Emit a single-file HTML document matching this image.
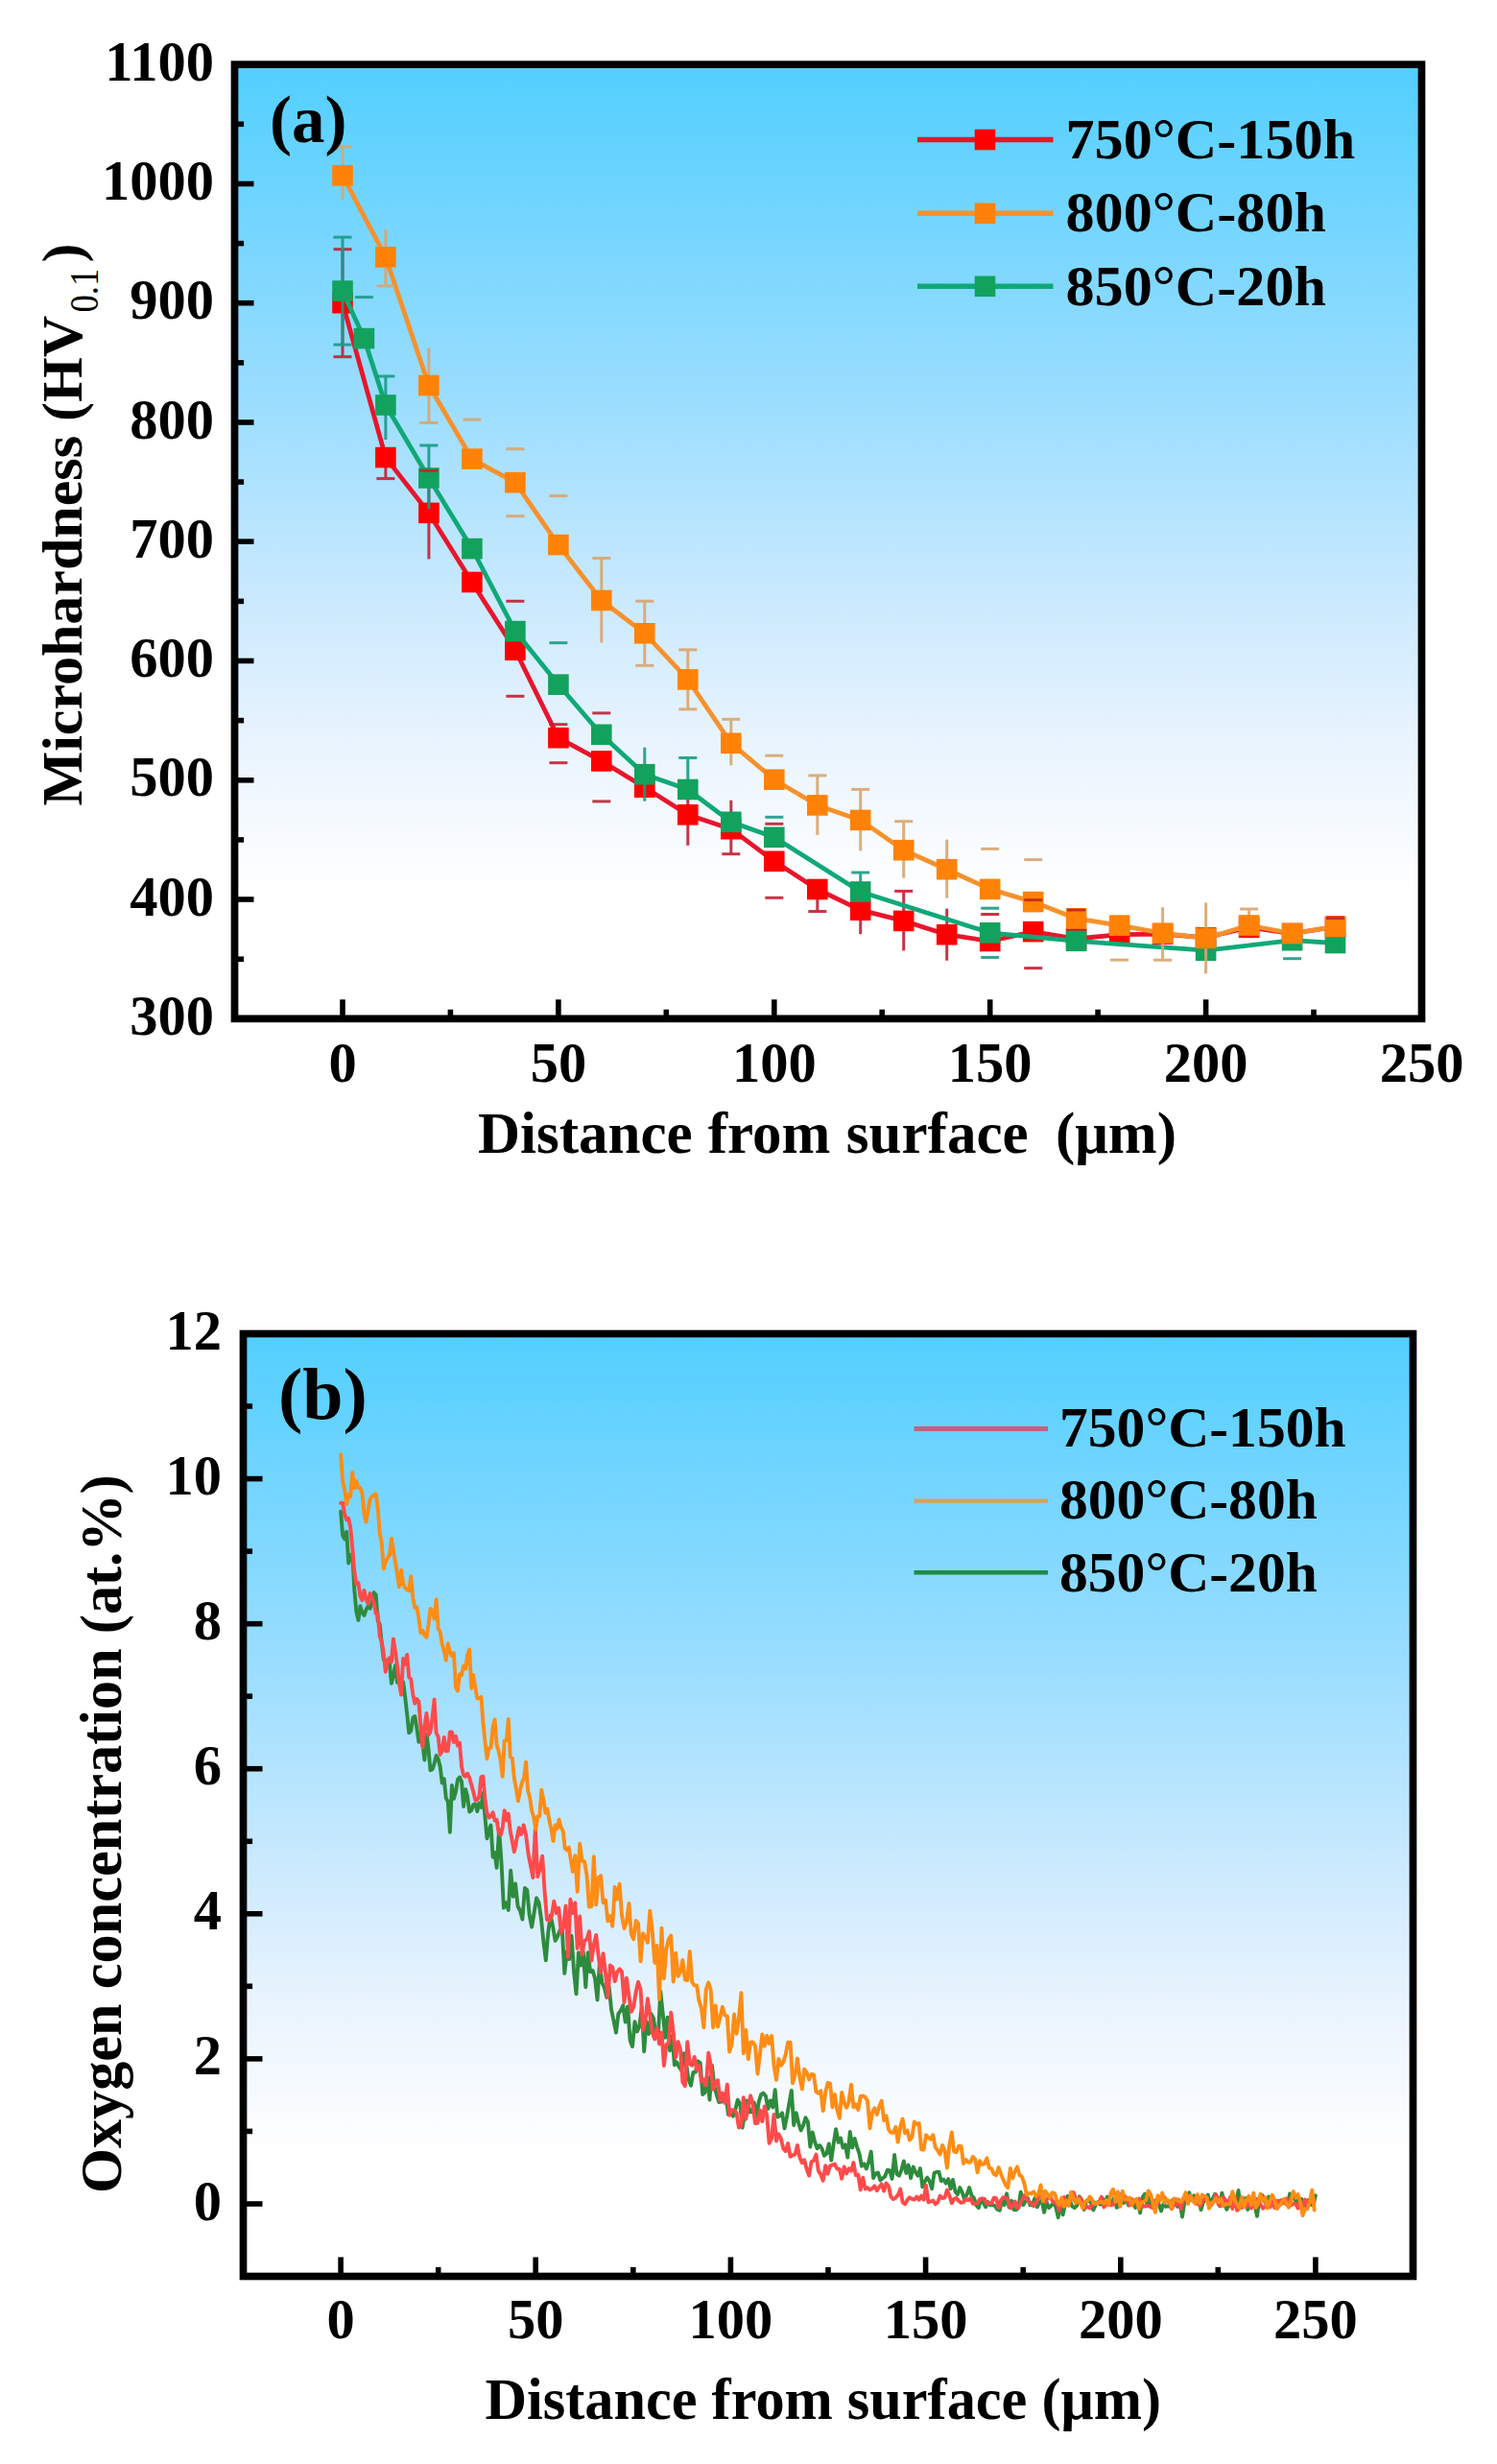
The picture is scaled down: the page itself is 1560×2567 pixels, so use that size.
<!DOCTYPE html>
<html lang="en"><head><meta charset="utf-8"><title>Microhardness and oxygen concentration profiles</title>
<style>
html,body{margin:0;padding:0;background:#fff;}
body{width:1560px;height:2567px;overflow:hidden;}
svg{display:block;}
text{font-family:"Liberation Serif", "DejaVu Serif", serif;font-weight:bold;fill:#000;}
.tk{font-size:58.5px;}
.ax{font-size:61px;}
.axb{font-size:60.3px;}
.axy{font-size:60px;}
.lg{font-size:60.2px;}
.lgb{font-size:59.6px;}
.pl{font-size:69px;}
.plb{font-size:76px;}
.sub{font-weight:normal;font-size:43px;}
</style></head><body>
<svg width="1560" height="2567" viewBox="0 0 1560 2567">
<defs>
<linearGradient id="gA" x1="0" y1="0" x2="0" y2="1"><stop offset="0" stop-color="#52cfff"/><stop offset="0.347" stop-color="#9addff"/><stop offset="0.57" stop-color="#cceafe"/><stop offset="0.70" stop-color="#e7f3fe"/><stop offset="0.83" stop-color="#fafcff"/><stop offset="0.87" stop-color="#ffffff"/><stop offset="1" stop-color="#ffffff"/></linearGradient>
<linearGradient id="gB" x1="0" y1="0" x2="0" y2="1"><stop offset="0" stop-color="#52cfff"/><stop offset="0.347" stop-color="#9addff"/><stop offset="0.57" stop-color="#cceafe"/><stop offset="0.70" stop-color="#e7f3fe"/><stop offset="0.83" stop-color="#fafcff"/><stop offset="0.87" stop-color="#ffffff"/><stop offset="1" stop-color="#ffffff"/></linearGradient>
</defs>
<rect x="0" y="0" width="1560" height="2567" fill="#ffffff"/>
<g id="panelA">
<rect x="244.5" y="67.2" width="1237" height="994.1" fill="url(#gA)"/>
<path d="M357 315.7 L401.9 476.6 L446.9 534.4 L491.9 606.5 L536.9 677.3 L581.9 768.7 L626.8 792.9 L671.8 820.2 L716.8 848.8 L761.8 863.7 L806.8 897.3 L851.8 926.5 L896.7 948.2 L941.7 959.4 L986.7 973.7 L1031.7 980.5 L1076.7 970.6 L1121.6 978 L1166.6 973.7 L1211.6 973.1 L1256.6 976.8 L1301.6 966.2 L1346.6 972.5 L1391.5 965.6" fill="none" stroke="#e8152c" stroke-width="4.8" stroke-linejoin="round"/>
<g stroke="#c41e32" stroke-width="3" fill="none" opacity="0.9"><path d="M357 259.7V371.7"/><path d="M347.5 259.7H366.5"/><path d="M347.5 371.7H366.5"/><path d="M401.9 476.6V498.6"/><path d="M392.4 498.6H411.4"/><path d="M446.9 490.4V582.4"/><path d="M437.4 490.4H456.4"/><path d="M527.4 626.3H546.4"/><path d="M527.4 725.3H546.4"/><path d="M572.4 754.7H591.4"/><path d="M572.4 794.7H591.4"/><path d="M617.3 742.9H636.3"/><path d="M617.3 834.9H636.3"/><path d="M716.8 816.8V880.8"/><path d="M761.8 833.7V889.7"/><path d="M752.3 889.7H771.3"/><path d="M797.3 858.3H816.3"/><path d="M797.3 935.3H816.3"/><path d="M851.8 926.5V949.5"/><path d="M842.3 949.5H861.3"/><path d="M896.7 928.2V973.2"/><path d="M941.7 928.4V990.4"/><path d="M932.2 928.4H951.2"/><path d="M986.7 946.7V1000.7"/><path d="M1022.2 952.5H1041.2"/><path d="M1067.2 937.6H1086.2"/><path d="M1067.2 1008.6H1086.2"/><path d="M1382 955.6H1401"/></g>
<g fill="#ff0000"><rect x="346.2" y="304.9" width="21.6" height="21.6"/><rect x="391.1" y="465.8" width="21.6" height="21.6"/><rect x="436.1" y="523.6" width="21.6" height="21.6"/><rect x="481.1" y="595.7" width="21.6" height="21.6"/><rect x="526.1" y="666.5" width="21.6" height="21.6"/><rect x="571.1" y="757.9" width="21.6" height="21.6"/><rect x="616" y="782.1" width="21.6" height="21.6"/><rect x="661" y="809.4" width="21.6" height="21.6"/><rect x="706" y="838" width="21.6" height="21.6"/><rect x="751" y="852.9" width="21.6" height="21.6"/><rect x="796" y="886.5" width="21.6" height="21.6"/><rect x="841" y="915.7" width="21.6" height="21.6"/><rect x="885.9" y="937.4" width="21.6" height="21.6"/><rect x="930.9" y="948.6" width="21.6" height="21.6"/><rect x="975.9" y="962.9" width="21.6" height="21.6"/><rect x="1020.9" y="969.7" width="21.6" height="21.6"/><rect x="1065.9" y="959.8" width="21.6" height="21.6"/><rect x="1110.8" y="967.2" width="21.6" height="21.6"/><rect x="1155.8" y="962.9" width="21.6" height="21.6"/><rect x="1200.8" y="962.3" width="21.6" height="21.6"/><rect x="1245.8" y="966" width="21.6" height="21.6"/><rect x="1290.8" y="955.4" width="21.6" height="21.6"/><rect x="1335.8" y="961.7" width="21.6" height="21.6"/><rect x="1380.7" y="954.8" width="21.6" height="21.6"/></g>
<path d="M357 303.1 L379.4 352.6 L401.9 422 L446.9 498 L491.9 571.6 L536.9 657.6 L581.9 713.2 L626.8 765.3 L671.8 806.7 L716.8 822.5 L761.8 856.3 L806.8 872.3 L896.7 929 L1031.7 971.8 L1121.6 980.3 L1256.6 990.2 L1346.6 979.7 L1391.5 982.5" fill="none" stroke="#10a878" stroke-width="4.8" stroke-linejoin="round"/>
<g stroke="#1a9a86" stroke-width="3" fill="none" opacity="0.9"><path d="M357 247.1V359.1"/><path d="M347.5 247.1H366.5"/><path d="M347.5 359.1H366.5"/><path d="M369.9 309.6H388.9"/><path d="M401.9 392V458"/><path d="M392.4 392H411.4"/><path d="M446.9 464V530"/><path d="M437.4 464H456.4"/><path d="M572.4 669.7H591.4"/><path d="M671.8 778.7V834.7"/><path d="M716.8 789.5V822.5"/><path d="M707.3 789.5H726.3"/><path d="M797.3 851.3H816.3"/><path d="M896.7 909V929"/><path d="M887.2 909H906.2"/><path d="M1022.2 946.2H1041.2"/><path d="M1022.2 997.4H1041.2"/><path d="M1337.1 998.7H1356.1"/></g>
<g fill="#12a25e"><rect x="346.2" y="292.3" width="21.6" height="21.6"/><rect x="368.6" y="341.8" width="21.6" height="21.6"/><rect x="391.1" y="411.2" width="21.6" height="21.6"/><rect x="436.1" y="487.2" width="21.6" height="21.6"/><rect x="481.1" y="560.8" width="21.6" height="21.6"/><rect x="526.1" y="646.8" width="21.6" height="21.6"/><rect x="571.1" y="702.4" width="21.6" height="21.6"/><rect x="616" y="754.5" width="21.6" height="21.6"/><rect x="661" y="795.9" width="21.6" height="21.6"/><rect x="706" y="811.7" width="21.6" height="21.6"/><rect x="751" y="845.5" width="21.6" height="21.6"/><rect x="796" y="861.5" width="21.6" height="21.6"/><rect x="885.9" y="918.2" width="21.6" height="21.6"/><rect x="1020.9" y="961" width="21.6" height="21.6"/><rect x="1110.8" y="969.5" width="21.6" height="21.6"/><rect x="1245.8" y="979.4" width="21.6" height="21.6"/><rect x="1335.8" y="968.9" width="21.6" height="21.6"/><rect x="1380.7" y="971.7" width="21.6" height="21.6"/></g>
<path d="M357 182.8 L401.9 267.9 L446.9 401.5 L491.9 478.1 L536.9 502.7 L581.9 567.6 L626.8 625.5 L671.8 659.8 L716.8 707.9 L761.8 774.3 L806.8 812.2 L851.8 838.9 L896.7 854.4 L941.7 885.7 L986.7 905.7 L1031.7 926.4 L1076.7 939.6 L1121.6 956.9 L1166.6 964.1 L1211.6 972.2 L1256.6 977.4 L1301.6 964 L1346.6 972.5 L1391.5 965.4" fill="none" stroke="#f6912c" stroke-width="4.8" stroke-linejoin="round"/>
<g stroke="#d8a670" stroke-width="3" fill="none" opacity="0.9"><path d="M357 152.8V207.8"/><path d="M347.5 152.8H366.5"/><path d="M401.9 238.9V297.9"/><path d="M392.4 297.9H411.4"/><path d="M446.9 362.5V440.5"/><path d="M437.4 440.5H456.4"/><path d="M482.4 437.1H501.4"/><path d="M527.4 467.7H546.4"/><path d="M527.4 537.7H546.4"/><path d="M572.4 516.6H591.4"/><path d="M626.8 581.5V669.5"/><path d="M617.3 581.5H636.3"/><path d="M671.8 626.3V693.3"/><path d="M662.3 626.3H681.3"/><path d="M662.3 693.3H681.3"/><path d="M716.8 676.9V738.9"/><path d="M707.3 676.9H726.3"/><path d="M707.3 738.9H726.3"/><path d="M761.8 749.3V797.3"/><path d="M752.3 749.3H771.3"/><path d="M797.3 787.2H816.3"/><path d="M851.8 807.9V869.9"/><path d="M842.3 807.9H861.3"/><path d="M896.7 822.4V886.4"/><path d="M887.2 822.4H906.2"/><path d="M941.7 855.7V914.7"/><path d="M932.2 855.7H951.2"/><path d="M986.7 874.7V935.7"/><path d="M1022.2 884.4H1041.2"/><path d="M1067.2 895.6H1086.2"/><path d="M1157.1 1000.1H1176.1"/><path d="M1211.6 945.2V1000.2"/><path d="M1202.1 1000.2H1221.1"/><path d="M1256.6 940.4V1014.4"/><path d="M1301.6 947V964"/><path d="M1292.1 947H1311.1"/></g>
<g fill="#ff8206"><rect x="346.2" y="172" width="21.6" height="21.6"/><rect x="391.1" y="257.1" width="21.6" height="21.6"/><rect x="436.1" y="390.7" width="21.6" height="21.6"/><rect x="481.1" y="467.3" width="21.6" height="21.6"/><rect x="526.1" y="491.9" width="21.6" height="21.6"/><rect x="571.1" y="556.8" width="21.6" height="21.6"/><rect x="616" y="614.7" width="21.6" height="21.6"/><rect x="661" y="649" width="21.6" height="21.6"/><rect x="706" y="697.1" width="21.6" height="21.6"/><rect x="751" y="763.5" width="21.6" height="21.6"/><rect x="796" y="801.4" width="21.6" height="21.6"/><rect x="841" y="828.1" width="21.6" height="21.6"/><rect x="885.9" y="843.6" width="21.6" height="21.6"/><rect x="930.9" y="874.9" width="21.6" height="21.6"/><rect x="975.9" y="894.9" width="21.6" height="21.6"/><rect x="1020.9" y="915.6" width="21.6" height="21.6"/><rect x="1065.9" y="928.8" width="21.6" height="21.6"/><rect x="1110.8" y="946.1" width="21.6" height="21.6"/><rect x="1155.8" y="953.3" width="21.6" height="21.6"/><rect x="1200.8" y="961.4" width="21.6" height="21.6"/><rect x="1245.8" y="966.6" width="21.6" height="21.6"/><rect x="1290.8" y="953.2" width="21.6" height="21.6"/><rect x="1335.8" y="961.7" width="21.6" height="21.6"/><rect x="1380.7" y="954.6" width="21.6" height="21.6"/></g>
<g stroke="#c0281e" stroke-width="3" fill="none" opacity="0.9"><path d="M1067.2 937.6H1086.2"/><path d="M1112.1 948H1131.1"/><path d="M1382 956.6H1401"/><path d="M437.4 490.4H456.4"/></g>
<g stroke="#000" stroke-width="5.6" fill="none">
<path d="M357 1061.3V1041.3"/>
<path d="M581.9 1061.3V1041.3"/>
<path d="M806.8 1061.3V1041.3"/>
<path d="M1031.7 1061.3V1041.3"/>
<path d="M1256.6 1061.3V1041.3"/>
<path d="M1481.5 1061.3V1041.3"/>
<path d="M469.4 1061.3V1051.7"/>
<path d="M694.3 1061.3V1051.7"/>
<path d="M919.2 1061.3V1051.7"/>
<path d="M1144.1 1061.3V1051.7"/>
<path d="M1369 1061.3V1051.7"/>
<path d="M244.5 1061.3H264.5"/>
<path d="M244.5 937H264.5"/>
<path d="M244.5 812.8H264.5"/>
<path d="M244.5 688.5H264.5"/>
<path d="M244.5 564.2H264.5"/>
<path d="M244.5 440H264.5"/>
<path d="M244.5 315.7H264.5"/>
<path d="M244.5 191.5H264.5"/>
<path d="M244.5 67.2H264.5"/>
<path d="M244.5 999.2H254.1"/>
<path d="M244.5 874.9H254.1"/>
<path d="M244.5 750.6H254.1"/>
<path d="M244.5 626.4H254.1"/>
<path d="M244.5 502.1H254.1"/>
<path d="M244.5 377.9H254.1"/>
<path d="M244.5 253.6H254.1"/>
<path d="M244.5 129.3H254.1"/>
</g>
<rect x="244.5" y="67.2" width="1237" height="994.1" fill="none" stroke="#000" stroke-width="7.7"/>
<text class="tk" x="357" y="1127" text-anchor="middle">0</text>
<text class="tk" x="581.9" y="1127" text-anchor="middle">50</text>
<text class="tk" x="806.8" y="1127" text-anchor="middle">100</text>
<text class="tk" x="1031.7" y="1127" text-anchor="middle">150</text>
<text class="tk" x="1256.6" y="1127" text-anchor="middle">200</text>
<text class="tk" x="1481.5" y="1127" text-anchor="middle">250</text>
<text class="tk" x="223" y="1077.8" text-anchor="end">300</text>
<text class="tk" x="223" y="953.5" text-anchor="end">400</text>
<text class="tk" x="223" y="829.3" text-anchor="end">500</text>
<text class="tk" x="223" y="705" text-anchor="end">600</text>
<text class="tk" x="223" y="580.8" text-anchor="end">700</text>
<text class="tk" x="223" y="456.5" text-anchor="end">800</text>
<text class="tk" x="223" y="332.2" text-anchor="end">900</text>
<text class="tk" x="223" y="208" text-anchor="end">1000</text>
<text class="tk" x="223" y="83.7" text-anchor="end">1100</text>
<text class="ax" x="498" y="1200.5" xml:space="preserve">Distance <tspan dx="0.8">from</tspan> <tspan dx="1.3">surface</tspan>  <tspan dx="-2.1">(μm)</tspan></text>
<text class="axy" transform="translate(85 839.5) rotate(-90)" xml:space="preserve">Microhardness (HV</text>
<text class="sub" transform="translate(101.6 325.5) rotate(-90) scale(0.85 1)">0.1</text>
<text class="axy" transform="translate(85 273.5) rotate(-90)">)</text>
<text class="pl" x="281" y="147.5">(a)</text>
<path d="M956 145.5H1097.5" stroke="#e8152c" stroke-width="5.4" fill="none"/>
<rect x="1015.7" y="134.7" width="21.6" height="21.6" fill="#ff0000"/>
<text class="lg" x="1110.5" y="164.7">750°C-150h</text>
<path d="M956 222.3H1097.5" stroke="#f6912c" stroke-width="5.4" fill="none"/>
<rect x="1015.7" y="211.5" width="21.6" height="21.6" fill="#ff8206"/>
<text class="lg" x="1110.5" y="240.5">800°C-80h</text>
<path d="M956 298.3H1097.5" stroke="#10a878" stroke-width="5.4" fill="none"/>
<rect x="1015.7" y="287.5" width="21.6" height="21.6" fill="#12a25e"/>
<text class="lg" x="1110.5" y="317.5">850°C-20h</text>
</g>
<g id="panelB">
<rect x="253.5" y="1389.5" width="1219" height="982" fill="url(#gB)"/>
<path d="M355.1 1574.6 L357.1 1599.5 L359.1 1603.4 L361.2 1595.9 L363.2 1628.6 L365.2 1619.7 L367.3 1620.1 L369.3 1656.4 L371.3 1678.7 L373.4 1687.9 L375.4 1673.3 L377.4 1680 L379.5 1683 L381.5 1677 L383.5 1673.4 L385.6 1675.7 L387.6 1669.2 L389.6 1659.1 L391.7 1661.5 L393.7 1688.4 L395.7 1692.2 L397.7 1710.9 L399.8 1728.9 L401.8 1731.4 L403.8 1729.3 L405.9 1732.5 L407.9 1753.7 L409.9 1745.5 L412 1735.1 L414 1752.8 L416 1745.8 L418.1 1752.3 L420.1 1752.1 L422.1 1767.3 L424.2 1785.9 L426.2 1805.3 L428.2 1803.4 L430.3 1789.8 L432.3 1788 L434.3 1800 L436.4 1814.7 L438.4 1806.2 L440.4 1816.5 L442.4 1833.5 L444.5 1806.6 L446.5 1822.1 L448.5 1844.2 L450.6 1843.2 L452.6 1837.3 L454.6 1828.9 L456.7 1832.7 L458.7 1840.6 L460.7 1857.5 L462.8 1853.3 L464.8 1873.4 L466.8 1876.9 L468.9 1908.8 L470.9 1860 L472.9 1873.9 L475 1866.5 L477 1853.8 L479 1851.5 L481 1856 L483.1 1882 L485.1 1864.1 L487.1 1871.6 L489.2 1887.6 L491.2 1886 L493.2 1880.1 L495.3 1879.3 L497.3 1887 L499.3 1878.6 L501.4 1882.9 L503.4 1867.8 L505.4 1892.3 L507.5 1915.4 L509.5 1906.3 L511.5 1901.5 L513.6 1934.7 L515.6 1930 L517.6 1945.9 L520.1 1906 L522.5 1940 L524.9 1987.6 L527.4 1982.3 L529.8 1989.9 L532.2 1948.7 L534.7 1975.9 L537.1 1962.4 L539.6 1986 L542 1990.5 L544.4 1999.6 L546.9 1966.9 L549.3 1969.2 L551.7 1995.1 L554.2 2007.5 L556.6 1992.6 L559.1 1977.3 L561.5 1982.1 L563.9 1998.4 L566.4 2022.9 L568.8 2042.3 L571.3 2012.8 L573.7 1995.5 L576.1 2006.9 L578.6 2021.9 L581 2017.6 L583.4 2011.3 L585.9 2011.3 L588.3 2055.8 L590.8 2033.3 L593.2 2041.1 L595.6 2016.7 L598.1 2054.5 L600.5 2077.3 L602.9 2034.2 L605.4 2047.6 L607.8 2033.7 L610.3 2070.2 L612.7 2034.3 L615.1 2054.2 L617.6 2053.1 L620 2060.8 L622.5 2083.6 L624.9 2044.5 L627.3 2065.6 L629.8 2070.3 L632.2 2080.9 L634.6 2069.3 L637.1 2093.9 L639.5 2105.2 L642 2117.6 L644.4 2097.8 L646.8 2094.8 L649.3 2089.3 L651.7 2106.5 L654.1 2090.5 L656.6 2125.5 L659 2132.1 L661.5 2106.2 L663.9 2116.4 L666.3 2111.5 L668.8 2090.8 L671.2 2137.2 L673.6 2106.2 L676.1 2118.9 L678.5 2097.9 L681 2102.6 L683.4 2119.7 L685.8 2122.5 L688.3 2074.7 L690.7 2097.3 L693.2 2122.9 L695.6 2101.6 L698 2136.2 L700.5 2120.6 L702.9 2151.4 L705.3 2148.4 L707.8 2153.6 L710.2 2156.7 L712.7 2139.1 L715.1 2149.5 L717.5 2166.4 L720 2172.7 L722.4 2158.9 L724.8 2158.8 L727.3 2147.3 L729.7 2149.2 L732.2 2182.1 L734.6 2180 L737 2163.4 L739.5 2187.5 L741.9 2151.6 L744.4 2172.9 L746.8 2182.4 L749.2 2190.1 L751.7 2189.6 L754.1 2185.8 L756.5 2183.8 L759 2202.9 L761.4 2201.2 L763.9 2204.7 L766.3 2197.9 L768.7 2187.7 L771.2 2191.5 L773.6 2216.6 L776 2202.8 L778.5 2188.5 L780.9 2200.3 L783.4 2200.2 L785.8 2190.5 L788.2 2205.6 L790.7 2189.9 L793.1 2182.2 L795.5 2180.6 L798 2183.8 L800.4 2196.9 L802.9 2188.4 L805.3 2195.5 L807.7 2177.2 L810.2 2205.5 L812.6 2204.5 L815.1 2201.2 L817.5 2217.4 L819.9 2205.7 L822.4 2191 L824.8 2177.9 L827.2 2214 L829.7 2201.2 L832.1 2211.5 L834.6 2219.4 L837 2214.5 L839.4 2206.2 L841.9 2210.8 L844.3 2236.6 L846.7 2221.4 L849.2 2231.7 L851.6 2238.2 L854.1 2235 L856.5 2238.3 L858.9 2245.8 L861.4 2243.5 L863.8 2233.5 L866.3 2250.6 L868.7 2233.2 L871.1 2218.1 L873.6 2231.8 L876 2227.5 L878.4 2237.4 L880.9 2234.4 L883.3 2247.6 L885.8 2221 L888.2 2237.4 L890.6 2227.9 L893.1 2236.8 L895.5 2243.6 L897.9 2256.7 L900.4 2254.2 L902.8 2259.3 L905.3 2252.2 L907.7 2241.6 L910.1 2269 L912.6 2264.3 L915 2263.6 L917.4 2271.4 L919.9 2269.2 L922.3 2267.2 L924.8 2260.8 L927.2 2261.1 L929.6 2269.9 L932.1 2245 L934.5 2264.8 L937 2266.6 L939.4 2260.7 L941.8 2251.4 L944.3 2263.9 L946.7 2255.5 L949.1 2269.1 L951.6 2257.4 L954 2262.9 L956.5 2266.7 L958.9 2259 L961.3 2278.3 L963.8 2272.8 L966.2 2268.6 L968.6 2272.2 L971.1 2280.2 L973.5 2264.1 L976 2262.8 L978.4 2262.7 L980.8 2272 L983.3 2270.6 L985.7 2274.6 L988.2 2270.1 L990.6 2280.2 L993 2270.8 L995.5 2283.3 L997.9 2286.2 L1000.3 2279 L1002.8 2284.4 L1005.2 2291.8 L1007.7 2285.8 L1010.1 2279 L1012.5 2287.4 L1015 2289.8 L1017.4 2297.5 L1019.8 2300.1 L1022.3 2291.6 L1024.7 2294.6 L1027.2 2299.3 L1029.6 2294 L1032 2297.3 L1034.5 2297.1 L1036.9 2298.2 L1039.3 2301.7 L1041.8 2302.7 L1044.2 2291.7 L1046.7 2297.2 L1049.1 2285.3 L1051.5 2299.3 L1054 2292.7 L1056.4 2302.1 L1058.9 2302.2 L1061.3 2300.1 L1063.7 2283.7 L1066.2 2297.2 L1068.6 2293 L1071 2290.1 L1073.5 2297.4 L1075.9 2297 L1078.4 2289.9 L1080.8 2299.3 L1083.2 2294.4 L1085.7 2292.3 L1088.1 2304.8 L1090.5 2293.9 L1093 2300.1 L1095.4 2297.8 L1097.9 2294.9 L1100.3 2299.3 L1102.7 2310.2 L1105.2 2293.2 L1107.6 2307.3 L1110.1 2296.1 L1112.5 2287.9 L1114.9 2292.7 L1117.4 2298.7 L1119.8 2300.2 L1122.2 2297.7 L1124.7 2288.4 L1127.1 2291.7 L1129.6 2301.9 L1132 2292.9 L1134.4 2291.7 L1136.9 2295.3 L1139.3 2302.5 L1141.7 2297.1 L1144.2 2294.1 L1146.6 2296.5 L1149.1 2290.6 L1151.5 2294.9 L1153.9 2288.7 L1156.4 2292.1 L1158.8 2294.1 L1161.2 2289.5 L1163.7 2299.8 L1166.1 2298.4 L1168.6 2285.7 L1171 2295.1 L1173.4 2290.6 L1175.9 2297.4 L1178.3 2293.8 L1180.8 2295 L1183.2 2300 L1185.6 2294.6 L1188.1 2305.4 L1190.5 2289.4 L1192.9 2285.7 L1195.4 2297 L1197.8 2286.2 L1200.3 2298.9 L1202.7 2295.2 L1205.1 2294.6 L1207.6 2296.4 L1210 2303.3 L1212.4 2296.1 L1214.9 2298.8 L1217.3 2298.1 L1219.8 2299.2 L1222.2 2291.7 L1224.6 2296.6 L1227.1 2298.9 L1229.5 2294.3 L1232 2309.5 L1234.4 2293.9 L1236.8 2290 L1239.3 2284.3 L1241.7 2292.2 L1244.1 2287.4 L1246.6 2295.8 L1249 2289.7 L1251.5 2302.1 L1253.9 2294.2 L1256.3 2291.1 L1258.8 2286.6 L1261.2 2297.2 L1263.6 2290.8 L1266.1 2285.8 L1268.5 2289.1 L1271 2298.3 L1273.4 2284.6 L1275.8 2294.8 L1278.3 2301.8 L1280.7 2297.5 L1283.1 2287.8 L1285.6 2296.4 L1288 2296.6 L1290.5 2282 L1292.9 2298.7 L1295.3 2292.3 L1297.8 2290 L1300.2 2301.9 L1302.7 2292 L1305.1 2291.7 L1307.5 2296.9 L1310 2308.8 L1312.4 2290.5 L1314.8 2286.6 L1317.3 2289.6 L1319.7 2296.7 L1322.2 2288.6 L1324.6 2294.4 L1327 2294.9 L1329.5 2293.8 L1331.9 2295 L1334.3 2297 L1336.8 2293.4 L1339.2 2295.3 L1341.7 2297.1 L1344.1 2285.3 L1346.5 2290.2 L1349 2290.5 L1351.4 2294.8 L1353.9 2291.6 L1356.3 2290.9 L1358.7 2296.2 L1361.2 2300.9 L1363.6 2292 L1366 2296.7 L1368.5 2297.7 L1370.9 2287.3" fill="none" stroke="#2e8b3c" stroke-width="3.9" stroke-linejoin="round" stroke-linecap="round"/>
<path d="M355.1 1566 L357.1 1565.7 L359.1 1577.5 L361.2 1583.5 L363.2 1581.8 L365.2 1591.5 L367.3 1612.7 L369.3 1637.3 L371.3 1650.2 L373.4 1649.1 L375.4 1662.7 L377.4 1667.1 L379.5 1657 L381.5 1666.3 L383.5 1670.7 L385.6 1660.1 L387.6 1664.3 L389.6 1669.8 L391.7 1680.8 L393.7 1681.2 L395.7 1704.6 L397.7 1710.1 L399.8 1722.1 L401.8 1741.7 L403.8 1732.3 L405.9 1727.2 L407.9 1731.3 L409.9 1707.4 L412 1720.9 L414 1735.5 L416 1753.7 L418.1 1765.6 L420.1 1727.9 L422.1 1733.9 L424.2 1723.9 L426.2 1747.2 L428.2 1749.3 L430.3 1765.1 L432.3 1774.7 L434.3 1769.9 L436.4 1772.7 L438.4 1798.4 L440.4 1820.4 L442.4 1798.4 L444.5 1784.9 L446.5 1807.6 L448.5 1804.2 L450.6 1789.3 L452.6 1770.5 L454.6 1805.2 L456.7 1809.5 L458.7 1828 L460.7 1824 L462.8 1809.9 L464.8 1824.4 L466.8 1824.1 L468.9 1804.5 L470.9 1804.4 L472.9 1815 L475 1808.8 L477 1818.6 L479 1815.7 L481 1840.2 L483.1 1849.6 L485.1 1850.7 L487.1 1847.7 L489.2 1852 L491.2 1859.2 L493.2 1866.6 L495.3 1875.3 L497.3 1875 L499.3 1871.6 L501.4 1851.4 L503.4 1850.7 L505.4 1874 L507.5 1888.8 L509.5 1893.5 L511.5 1892.1 L513.6 1888.3 L515.6 1896.6 L517.6 1895.8 L519.6 1908.9 L521.7 1911.7 L523.7 1904.4 L525.7 1886.1 L527.8 1896.4 L529.8 1889.6 L531.8 1907.9 L533.9 1918.6 L535.9 1929.2 L538.3 1917.1 L540.8 1904.2 L543.2 1911 L545.7 1901.4 L548.1 1911.6 L550.5 1931.2 L553 1943.8 L555.4 1956 L557.8 1905.4 L560.3 1955.1 L562.7 1946.7 L565.2 1933.7 L567.6 1970.6 L570 1999.9 L572.5 2001 L574.9 1996.2 L577.3 1980.6 L579.8 1993 L582.2 1987.7 L584.7 2013.7 L587.1 2006.9 L589.5 1985.8 L592 2038.8 L594.4 1978.8 L596.9 1993.1 L599.3 1982.5 L601.7 2029.8 L604.2 1996.5 L606.6 2036.4 L609 2022.1 L611.5 2020.2 L613.9 2012.2 L616.4 2042.5 L618.8 2026 L621.2 2015.9 L623.7 2038.1 L626.1 2055.1 L628.5 2035.1 L631 2055.4 L633.4 2080.7 L635.9 2047.4 L638.3 2049.5 L640.7 2064.2 L643.2 2054.4 L645.6 2051.3 L648 2054.1 L650.5 2086.1 L652.9 2060.6 L655.4 2079.7 L657.8 2095.8 L660.2 2091.1 L662.7 2075.1 L665.1 2064.8 L667.6 2073.1 L670 2115.1 L672.4 2105.1 L674.9 2082.2 L677.3 2099.6 L679.7 2117.1 L682.2 2124.4 L684.6 2113.1 L687.1 2129.4 L689.5 2117.4 L691.9 2152.1 L694.4 2130.1 L696.8 2128.2 L699.2 2096.8 L701.7 2117.2 L704.1 2143.3 L706.6 2127.1 L709 2135.2 L711.4 2169.2 L713.9 2173.2 L716.3 2127.2 L718.8 2150.3 L721.2 2151.8 L723.6 2142.9 L726.1 2156.2 L728.5 2152 L730.9 2168.4 L733.4 2166.2 L735.8 2172.7 L738.3 2138.7 L740.7 2151.3 L743.1 2176.9 L745.6 2169.3 L748 2167.3 L750.4 2188.4 L752.9 2180.5 L755.3 2190.8 L757.8 2171.6 L760.2 2203.7 L762.6 2198.3 L765.1 2198.5 L767.5 2201.1 L769.9 2216.5 L772.4 2214.3 L774.8 2185.2 L777.3 2207.7 L779.7 2194.2 L782.1 2183.3 L784.6 2193.4 L787 2212.1 L789.5 2211.9 L791.9 2198.5 L794.3 2210.1 L796.8 2194.4 L799.2 2204.4 L801.6 2232.8 L804.1 2228.1 L806.5 2202.9 L809 2230.5 L811.4 2223.3 L813.8 2227.6 L816.3 2238.6 L818.7 2241 L821.1 2233 L823.6 2246.9 L826 2245.2 L828.5 2244.6 L830.9 2235 L833.3 2247.3 L835.8 2253.2 L838.2 2250.2 L840.7 2260 L843.1 2266.6 L845.5 2252.2 L848 2250.8 L850.4 2244.6 L852.8 2261.5 L855.3 2265.6 L857.7 2271.8 L860.2 2256.1 L862.6 2264.7 L865 2256.5 L867.5 2255.4 L869.9 2254.6 L872.3 2259.5 L874.8 2259.8 L877.2 2269.7 L879.7 2257.3 L882.1 2264.4 L884.5 2259.3 L887 2261.6 L889.4 2253.1 L891.8 2266.1 L894.3 2265.6 L896.7 2281.3 L899.2 2268.7 L901.6 2280.4 L904 2279.1 L906.5 2281.4 L908.9 2280 L911.4 2277.4 L913.8 2282.2 L916.2 2278.5 L918.7 2275.4 L921.1 2282.6 L923.5 2274.6 L926 2277.5 L928.4 2288.7 L930.9 2291.1 L933.3 2289.6 L935.7 2286.9 L938.2 2280.6 L940.6 2294.1 L943 2296.2 L945.5 2291.9 L947.9 2289.3 L950.4 2290.8 L952.8 2291.6 L955.2 2288.6 L957.7 2291.8 L960.1 2287.6 L962.6 2291.6 L965 2276.7 L967.4 2294.3 L969.9 2293.5 L972.3 2292.5 L974.7 2296.3 L977.2 2294.4 L979.6 2287.7 L982.1 2290 L984.5 2289.5 L986.9 2281.5 L989.4 2287.4 L991.8 2295.2 L994.2 2290.9 L996.7 2289.9 L999.1 2293 L1001.6 2294.8 L1004 2294.2 L1006.4 2291.1 L1008.9 2292.3 L1011.3 2290.2 L1013.7 2295.7 L1016.2 2295.6 L1018.6 2295.4 L1021.1 2291.1 L1023.5 2290.4 L1025.9 2291 L1028.4 2295.7 L1030.8 2294.8 L1033.3 2295.3 L1035.7 2289.7 L1038.1 2290.2 L1040.6 2300.1 L1043 2292.3 L1045.4 2289.1 L1047.9 2289.5 L1050.3 2291.5 L1052.8 2300.3 L1055.2 2298.1 L1057.6 2293.5 L1060.1 2300.2 L1062.5 2297.1 L1064.9 2292.2 L1067.4 2287.2 L1069.8 2290.6 L1072.3 2294 L1074.7 2295.2 L1077.1 2298.3 L1079.6 2295.3 L1082 2289.3 L1084.5 2288.4 L1086.9 2291.5 L1089.3 2294.3 L1091.8 2290 L1094.2 2287.1 L1096.6 2292.8 L1099.1 2295 L1101.5 2294.8 L1104 2303.1 L1106.4 2291.5 L1108.8 2289.1 L1111.3 2297 L1113.7 2295.7 L1116.1 2291.1 L1118.6 2284 L1121 2290.1 L1123.5 2294.2 L1125.9 2289.7 L1128.3 2295.3 L1130.8 2300.3 L1133.2 2298.7 L1135.6 2300.5 L1138.1 2297.3 L1140.5 2294.7 L1143 2295.2 L1145.4 2294.3 L1147.8 2288.7 L1150.3 2299.4 L1152.7 2296.6 L1155.2 2294 L1157.6 2297.4 L1160 2296.7 L1162.5 2290.8 L1164.9 2289.1 L1167.3 2295.8 L1169.8 2287.5 L1172.2 2287.9 L1174.7 2291.3 L1177.1 2297.5 L1179.5 2291 L1182 2294.6 L1184.4 2291.4 L1186.8 2290.8 L1189.3 2296.4 L1191.7 2298.7 L1194.2 2298.3 L1196.6 2297.6 L1199 2299.2 L1201.5 2300.1 L1203.9 2292.4 L1206.4 2295.8 L1208.8 2289 L1211.2 2287.6 L1213.7 2289.6 L1216.1 2293.6 L1218.5 2293.6 L1221 2301.2 L1223.4 2296.6 L1225.9 2296.8 L1228.3 2291.6 L1230.7 2301 L1233.2 2290 L1235.6 2291.7 L1238 2287.6 L1240.5 2289.1 L1242.9 2289.6 L1245.4 2293.9 L1247.8 2291.9 L1250.2 2298.3 L1252.7 2293.5 L1255.1 2290.7 L1257.5 2290.6 L1260 2296.3 L1262.4 2297.2 L1264.9 2292.5 L1267.3 2286.2 L1269.7 2296.7 L1272.2 2298.2 L1274.6 2289.1 L1277.1 2292 L1279.5 2296.1 L1281.9 2289.3 L1284.4 2301 L1286.8 2288.7 L1289.2 2302.8 L1291.7 2300.3 L1294.1 2299.8 L1296.6 2298 L1299 2299.1 L1301.4 2293.9 L1303.9 2300.6 L1306.3 2291.6 L1308.7 2290.8 L1311.2 2294.8 L1313.6 2296.9 L1316.1 2300.8 L1318.5 2298.2 L1320.9 2298.5 L1323.4 2299.4 L1325.8 2294 L1328.3 2300.1 L1330.7 2293 L1333.1 2293.3 L1335.6 2292.1 L1338 2295.2 L1340.4 2290.6 L1342.9 2292 L1345.3 2297.4 L1347.8 2295.6 L1350.2 2296 L1352.6 2300.6 L1355.1 2294.4 L1357.5 2299.2 L1359.9 2291.6 L1362.4 2296.7 L1364.8 2294 L1367.3 2293.6 L1369.7 2291.9" fill="none" stroke="#ff4a4a" stroke-width="3.9" stroke-linejoin="round" stroke-linecap="round"/>
<path d="M355.1 1515.3 L357.1 1542.8 L359.1 1551.8 L361.2 1567.1 L363.2 1556.8 L365.2 1559.2 L367.3 1533.9 L369.3 1550.4 L371.3 1543.2 L373.4 1550 L375.4 1549.9 L377.4 1555.5 L379.5 1577.1 L381.5 1585.6 L383.5 1573.2 L385.6 1561.9 L387.6 1559.2 L389.6 1557.4 L391.7 1556.7 L393.7 1570.8 L395.7 1597 L397.7 1607 L399.8 1634.4 L401.8 1626.8 L403.8 1623.3 L405.9 1620.5 L407.9 1602.9 L409.9 1615 L412 1627.8 L414 1640 L416 1653.1 L418.1 1635.6 L420.1 1649.6 L422.1 1654.2 L424.2 1656.2 L426.2 1657.3 L428.2 1642.2 L430.3 1664.5 L432.3 1674.9 L434.3 1674.4 L436.4 1685.6 L438.4 1701.1 L440.4 1698.6 L442.4 1703.9 L444.5 1705.8 L446.5 1692.5 L448.5 1676 L450.6 1678.1 L452.6 1686.4 L454.6 1666.2 L456.7 1697.2 L458.7 1699.9 L460.7 1713 L462.8 1719.8 L464.8 1729.6 L466.8 1712.1 L468.9 1721.6 L470.9 1725 L472.9 1722.1 L475 1758.2 L477 1761.5 L479 1744.2 L481 1745.1 L483.1 1735.5 L485.1 1738.6 L487.1 1723.9 L489.2 1718.4 L491.2 1758.7 L493.2 1745 L495.3 1758 L497.3 1769.5 L499.3 1769.1 L501.4 1767.8 L503.4 1794 L505.4 1813.8 L507.5 1832.3 L509.5 1821.1 L511.5 1820.9 L513.6 1799.6 L515.6 1791.4 L517.6 1817.8 L519.6 1824.4 L521.7 1834.4 L523.7 1850.9 L525.7 1813.5 L527.8 1813.4 L529.8 1791 L531.8 1830.4 L533.9 1831.9 L535.9 1853.2 L537.9 1863.4 L540 1876.4 L542 1864.9 L544 1857.3 L546.1 1851.9 L548.1 1835.6 L550.1 1865.4 L552.2 1873.1 L554.2 1886.5 L556.2 1893.2 L558.2 1905.7 L560.3 1892.4 L562.3 1892.1 L564.3 1864.8 L566.4 1875.1 L568.4 1888.8 L570.4 1884.5 L572.5 1897.2 L574.5 1905.5 L576.5 1917.9 L578.6 1901.4 L580.6 1905 L582.6 1895.7 L584.7 1904.1 L586.7 1907.2 L588.7 1925.5 L590.8 1927.4 L592.8 1924.6 L594.8 1937.3 L596.9 1949.9 L599.3 1933.1 L601.7 1970.9 L604.2 1920.8 L606.6 1938.4 L609 1939.4 L611.5 1953.4 L613.9 1986.7 L616.4 1986.2 L618.8 1934.1 L621.2 1984.4 L623.7 1956.3 L626.1 1954.1 L628.5 1982.2 L631 1979.6 L633.4 2001.3 L635.9 1996.1 L638.3 2006.7 L640.7 1965.9 L643.2 1978.7 L645.6 1962.8 L648 1995.3 L650.5 2009 L652.9 2002.3 L655.4 1982.9 L657.8 2014.7 L660.2 2020.2 L662.7 2001 L665.1 2003.8 L667.6 2043.4 L670 2014.3 L672.4 2017.8 L674.9 2023.7 L677.3 1990.7 L679.7 2011.3 L682.2 2044.7 L684.6 2027 L687.1 2082.9 L689.5 2008.6 L691.9 2061.2 L694.4 2030.7 L696.8 2020.3 L699.2 2016.5 L701.7 2064.5 L704.1 2034.6 L706.6 2058.8 L709 2054.1 L711.4 2041.9 L713.9 2062.5 L716.3 2063 L718.8 2033 L721.2 2064.8 L723.6 2068.3 L726.1 2068.5 L728.5 2084.6 L730.9 2092.2 L733.4 2112.2 L735.8 2072.4 L738.3 2065.6 L740.7 2073 L743.1 2112.2 L745.6 2089.5 L748 2111.5 L750.4 2101.8 L752.9 2090.7 L755.3 2099.5 L757.8 2100.5 L760.2 2137.5 L762.6 2129.6 L765.1 2098.4 L767.5 2118.8 L769.9 2102.9 L772.4 2076.1 L774.8 2139.2 L777.3 2114.9 L779.7 2145.2 L782.1 2127.7 L784.6 2127.5 L787 2131.7 L789.5 2160.6 L791.9 2140.6 L794.3 2119.4 L796.8 2131.5 L799.2 2120.8 L801.6 2128.9 L804.1 2121 L806.5 2151.8 L809 2166.9 L811.4 2144.9 L813.8 2151.8 L816.3 2148.4 L818.7 2140.4 L821.1 2127.8 L823.6 2127.6 L826 2170.2 L828.5 2161.4 L830.9 2144.5 L833.3 2163.6 L835.8 2176.4 L838.2 2155.8 L840.7 2159.2 L843.1 2166.4 L845.5 2161 L848 2161.5 L850.4 2179.3 L852.8 2180.7 L855.3 2178.2 L857.7 2199 L860.2 2179.9 L862.6 2169.9 L865 2170.6 L867.5 2195.4 L869.9 2182 L872.3 2197.5 L874.8 2206.8 L877.2 2180 L879.7 2190.5 L882.1 2195.8 L884.5 2190 L887 2171.7 L889.4 2195.3 L891.8 2192.2 L894.3 2197.9 L896.7 2183.9 L899.2 2183.5 L901.6 2184.8 L904 2188.6 L906.5 2217.2 L908.9 2201 L911.4 2196.2 L913.8 2203 L916.2 2194.8 L918.7 2188.7 L921.1 2209 L923.5 2204.3 L926 2218.4 L928.4 2221.8 L930.9 2221.9 L933.3 2215.9 L935.7 2231.6 L938.2 2215.5 L940.6 2207.5 L943 2222.2 L945.5 2219.5 L947.9 2229.6 L950.4 2226.5 L952.8 2210.4 L955.2 2213 L957.7 2212 L960.1 2239.2 L962.6 2239.5 L965 2224.3 L967.4 2226.8 L969.9 2228.8 L972.3 2224.2 L974.7 2237 L977.2 2240.4 L979.6 2244.5 L982.1 2235 L984.5 2240.3 L986.9 2258.6 L989.4 2234.3 L991.8 2221.5 L994.2 2241.5 L996.7 2242.1 L999.1 2235.8 L1001.6 2235.9 L1004 2254.1 L1006.4 2250 L1008.9 2252.5 L1011.3 2252.5 L1013.7 2246.9 L1016.2 2249.3 L1018.6 2263.2 L1021.1 2251.2 L1023.5 2255.1 L1025.9 2254.1 L1028.4 2248.2 L1030.8 2258.5 L1033.3 2259.4 L1035.7 2265 L1038.1 2266.1 L1040.6 2258.1 L1043 2264.6 L1045.4 2270.6 L1047.9 2276.2 L1050.3 2279.3 L1052.8 2258.9 L1055.2 2269.4 L1057.6 2262.7 L1060.1 2257.4 L1062.5 2266.2 L1064.9 2267.7 L1067.4 2274.8 L1069.8 2286.4 L1072.3 2284.8 L1074.7 2285.5 L1077.1 2283.2 L1079.6 2288 L1082 2286.4 L1084.5 2276.4 L1086.9 2293.3 L1089.3 2282.6 L1091.8 2286.4 L1094.2 2289.8 L1096.6 2284.3 L1099.1 2285.1 L1101.5 2293.4 L1104 2297.2 L1106.4 2289.6 L1108.8 2298.7 L1111.3 2292.6 L1113.7 2297.9 L1116.1 2283.8 L1118.6 2290.4 L1121 2295.1 L1123.5 2290.4 L1125.9 2295.4 L1128.3 2300.4 L1130.8 2293.8 L1133.2 2293 L1135.6 2288.5 L1138.1 2291.7 L1140.5 2296.1 L1143 2295.9 L1145.4 2294.1 L1147.8 2293.8 L1150.3 2295.5 L1152.7 2292.3 L1155.2 2297.4 L1157.6 2284.6 L1160 2280.8 L1162.5 2293.8 L1164.9 2283.5 L1167.3 2298.8 L1169.8 2282.7 L1172.2 2291.8 L1174.7 2291.3 L1177.1 2289.5 L1179.5 2297.3 L1182 2291.8 L1184.4 2291 L1186.8 2301.4 L1189.3 2294.6 L1191.7 2293.5 L1194.2 2292.5 L1196.6 2282.4 L1199 2285.9 L1201.5 2295.4 L1203.9 2304.8 L1206.4 2287.5 L1208.8 2292.4 L1211.2 2284.5 L1213.7 2294.7 L1216.1 2291.8 L1218.5 2292.9 L1221 2300.4 L1223.4 2290.4 L1225.9 2291.2 L1228.3 2293 L1230.7 2294 L1233.2 2290.5 L1235.6 2284.2 L1238 2295.9 L1240.5 2287.6 L1242.9 2292.4 L1245.4 2295.6 L1247.8 2286.2 L1250.2 2295.2 L1252.7 2286.5 L1255.1 2288.1 L1257.5 2289.3 L1260 2300.7 L1262.4 2295 L1264.9 2293.8 L1267.3 2290.3 L1269.7 2294.4 L1272.2 2290.7 L1274.6 2297.9 L1277.1 2296.5 L1279.5 2296.2 L1281.9 2296 L1284.4 2283.2 L1286.8 2292.8 L1289.2 2296.3 L1291.7 2300.6 L1294.1 2288.9 L1296.6 2299 L1299 2291.5 L1301.4 2287.9 L1303.9 2297 L1306.3 2284.7 L1308.7 2299.9 L1311.2 2295.1 L1313.6 2285.6 L1316.1 2293.4 L1318.5 2289.2 L1320.9 2300.5 L1323.4 2292.8 L1325.8 2286.7 L1328.3 2292.3 L1330.7 2301 L1333.1 2297.9 L1335.6 2295.1 L1338 2290.8 L1340.4 2295.2 L1342.9 2299.7 L1345.3 2293.3 L1347.8 2283.1 L1350.2 2289.7 L1352.6 2286 L1355.1 2294.8 L1357.5 2308.2 L1359.9 2301.3 L1362.4 2301.2 L1364.8 2293.8 L1367.3 2281.7 L1369.7 2302.5" fill="none" stroke="#ff8c14" stroke-width="3.9" stroke-linejoin="round" stroke-linecap="round"/>
<g stroke="#000" stroke-width="5.6" fill="none">
<path d="M355.1 2371.5V2351.5"/>
<path d="M558.2 2371.5V2351.5"/>
<path d="M761.4 2371.5V2351.5"/>
<path d="M964.6 2371.5V2351.5"/>
<path d="M1167.8 2371.5V2351.5"/>
<path d="M1370.9 2371.5V2351.5"/>
<path d="M456.7 2371.5V2361.9"/>
<path d="M659.8 2371.5V2361.9"/>
<path d="M863 2371.5V2361.9"/>
<path d="M1066.2 2371.5V2361.9"/>
<path d="M1269.3 2371.5V2361.9"/>
<path d="M253.5 2296H273.5"/>
<path d="M253.5 2144.9H273.5"/>
<path d="M253.5 1993.8H273.5"/>
<path d="M253.5 1842.7H273.5"/>
<path d="M253.5 1691.7H273.5"/>
<path d="M253.5 1540.6H273.5"/>
<path d="M253.5 1389.5H273.5"/>
<path d="M253.5 2220.4H263.1"/>
<path d="M253.5 2069.3H263.1"/>
<path d="M253.5 1918.3H263.1"/>
<path d="M253.5 1767.2H263.1"/>
<path d="M253.5 1616.1H263.1"/>
<path d="M253.5 1465H263.1"/>
</g>
<rect x="253.5" y="1389.5" width="1219" height="982" fill="none" stroke="#000" stroke-width="7.7"/>
<text class="tk" x="355.1" y="2436" text-anchor="middle">0</text>
<text class="tk" x="558.2" y="2436" text-anchor="middle">50</text>
<text class="tk" x="761.4" y="2436" text-anchor="middle">100</text>
<text class="tk" x="964.6" y="2436" text-anchor="middle">150</text>
<text class="tk" x="1167.8" y="2436" text-anchor="middle">200</text>
<text class="tk" x="1370.9" y="2436" text-anchor="middle">250</text>
<text class="tk" x="231" y="2312.5" text-anchor="end">0</text>
<text class="tk" x="231" y="2161.4" text-anchor="end">2</text>
<text class="tk" x="231" y="2010.3" text-anchor="end">4</text>
<text class="tk" x="231" y="1859.2" text-anchor="end">6</text>
<text class="tk" x="231" y="1708.2" text-anchor="end">8</text>
<text class="tk" x="231" y="1557.1" text-anchor="end">10</text>
<text class="tk" x="231" y="1406" text-anchor="end">12</text>
<text class="axb" x="505.5" y="2520" xml:space="preserve">Distance from surface (μm)</text>
<text class="axb" transform="translate(125.5 2285) rotate(-90)" xml:space="preserve">Oxygen concentration (at.%)</text>
<text class="plb" x="290" y="1477.7">(b)</text>
<path d="M952.5 1488.5H1092" stroke="#c4607c" stroke-width="5.2" fill="none"/>
<text class="lgb" x="1104" y="1506.6">750°C-150h</text>
<path d="M952.5 1563.6H1092" stroke="#d9a05c" stroke-width="4.2" fill="none"/>
<text class="lgb" x="1104" y="1582">800°C-80h</text>
<path d="M952.5 1638.3H1092" stroke="#1c8a46" stroke-width="4.4" fill="none"/>
<text class="lgb" x="1104" y="1658">850°C-20h</text>
</g>
</svg>
</body></html>
